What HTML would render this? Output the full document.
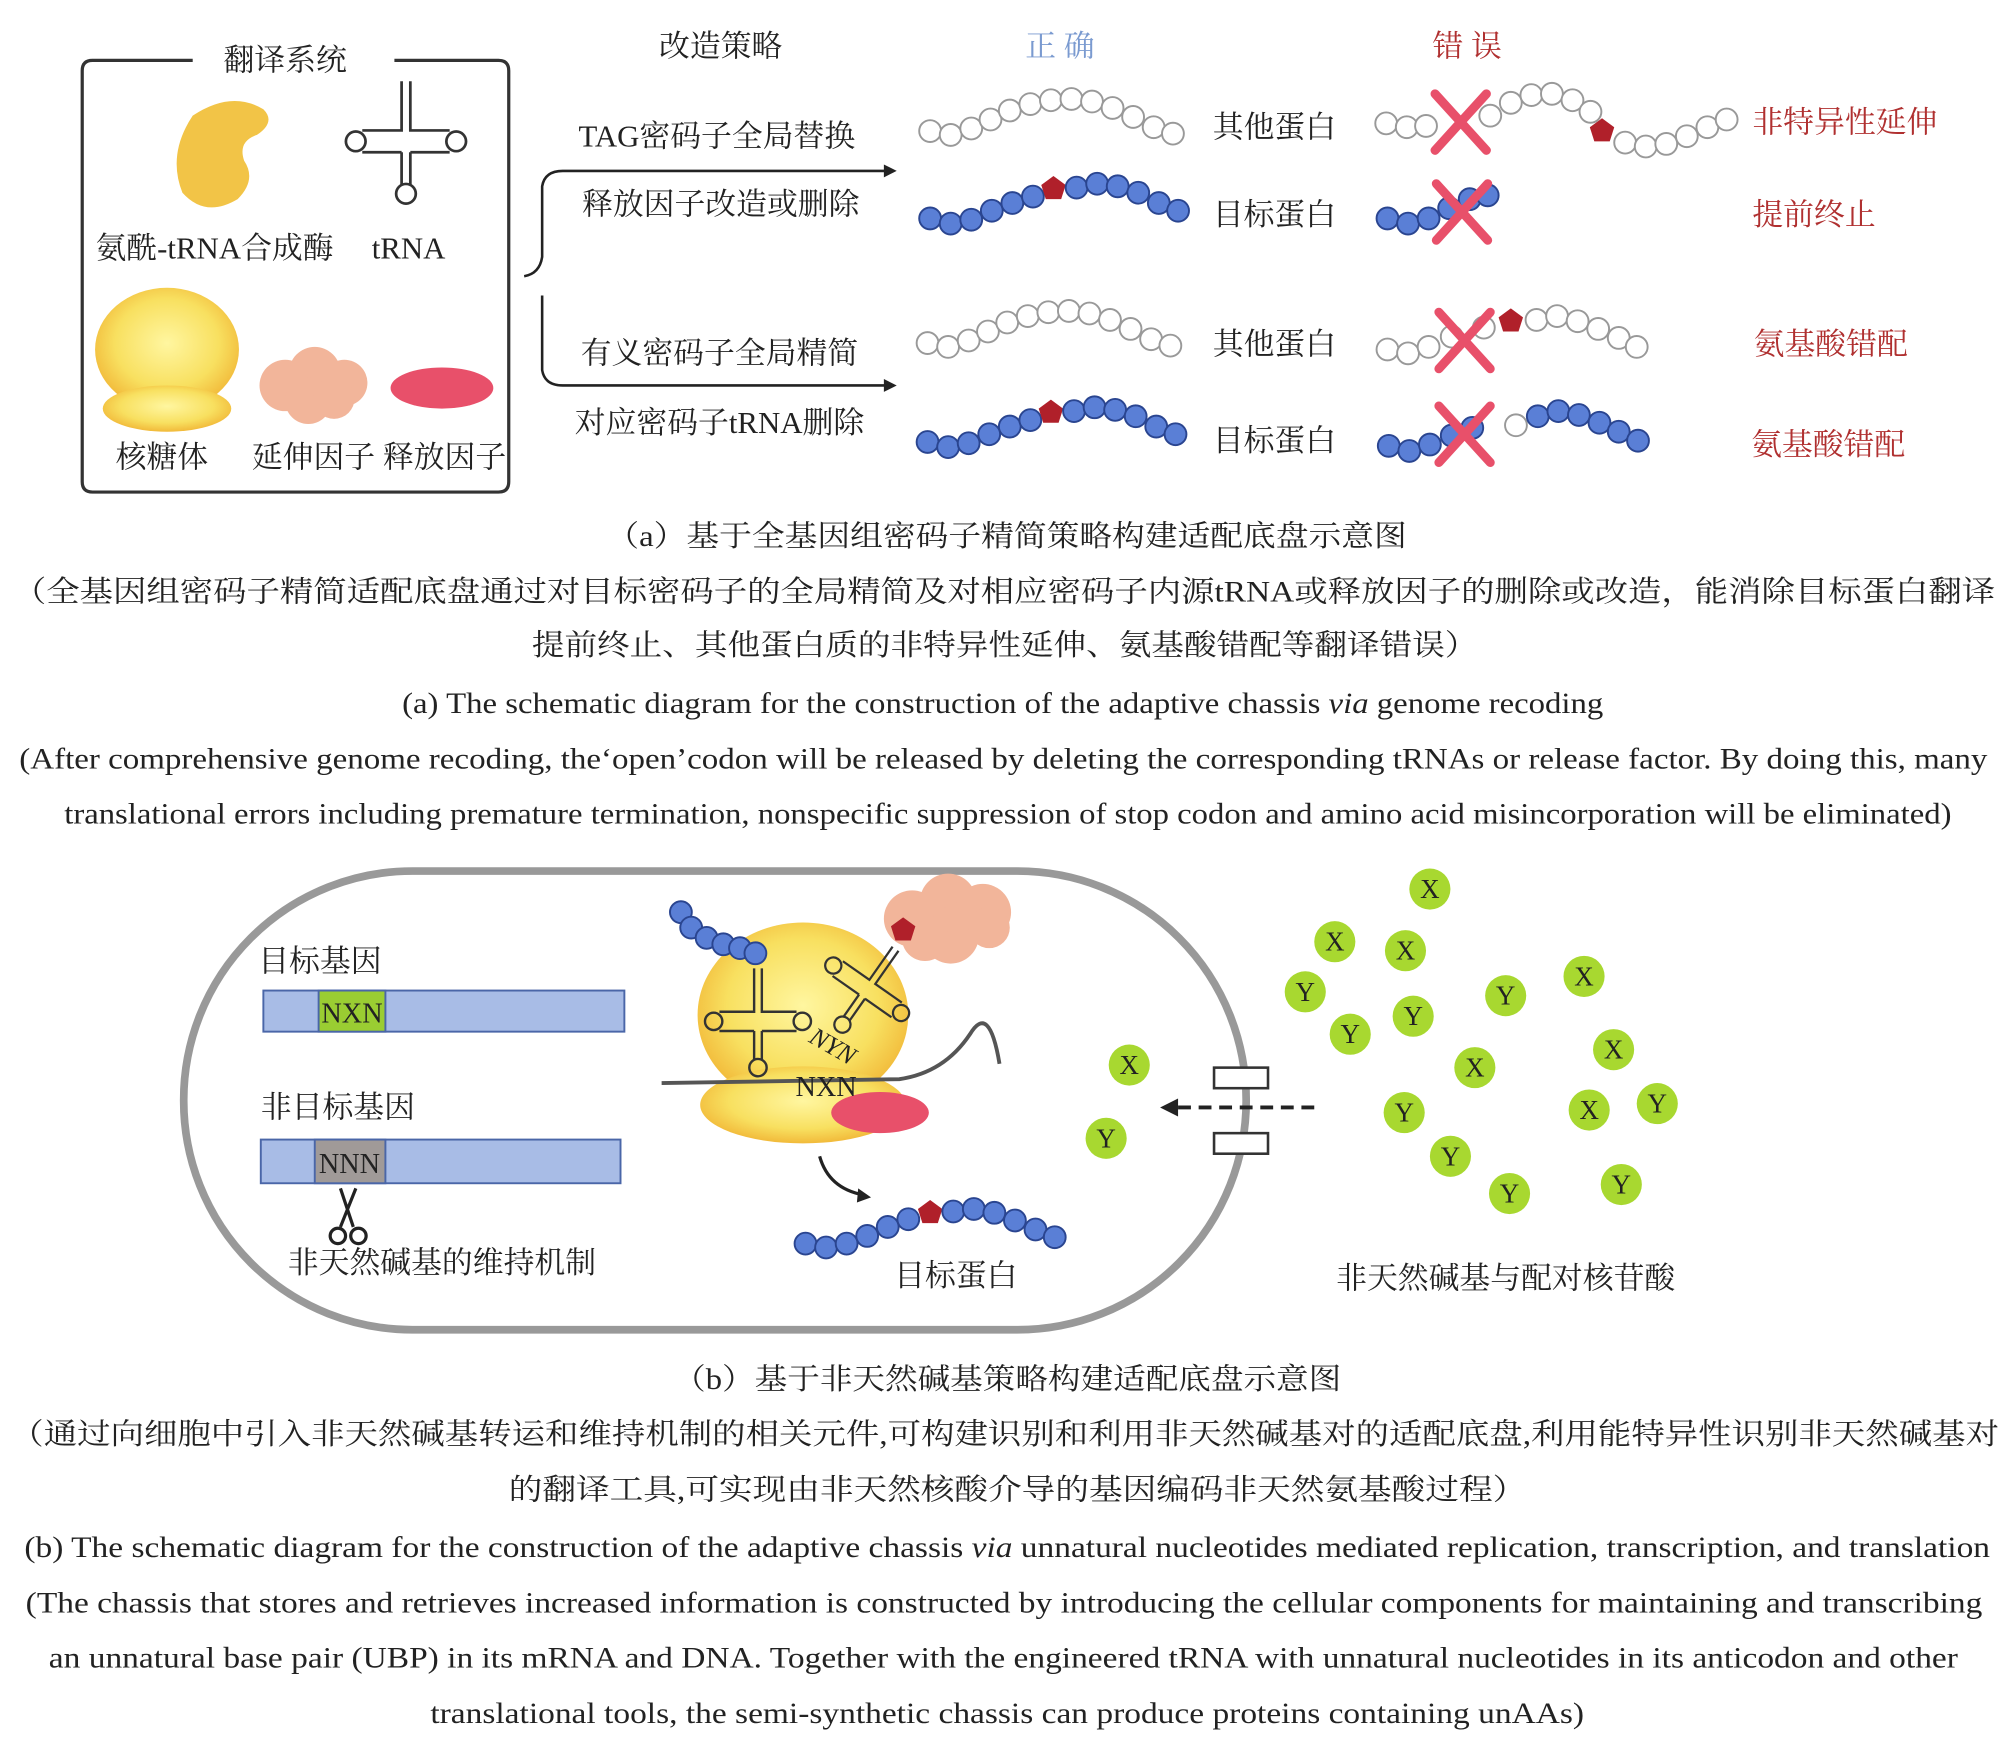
<!DOCTYPE html>
<html><head><meta charset="utf-8"><style>
html,body{margin:0;padding:0;background:#fff;}
svg{display:block;}
text{font-family:"Liberation Serif","Noto Serif CJK SC","Noto Sans CJK SC",serif;fill:#222;}
.c{text-anchor:middle;}
</style></head><body>
<svg width="2008" height="1737" viewBox="0 0 1563 1352" xmlns="http://www.w3.org/2000/svg">
<defs>
<radialGradient id="yg" cx="50%" cy="45%" r="60%"><stop offset="0" stop-color="#fff6a0"/><stop offset="0.6" stop-color="#f8e060"/><stop offset="1" stop-color="#f0b030"/></radialGradient>
<g id="wb"><circle r="8.5" fill="#fff" stroke="#999" stroke-width="1.5"/></g>
<g id="bb"><circle r="8.5" fill="#5a7fd6" stroke="#2a4590" stroke-width="1.5"/></g>
<g id="pent"><polygon points="0,-10 9.5,-3 6,8 -6,8 -9.5,-3" fill="#b0202a"/></g>
<g id="xx"><path d="M-20,-22 L20,22 M20,-22 L-20,22" stroke="#e8506a" stroke-width="7" stroke-linecap="round"/></g>
<g id="trna" fill="none" stroke="#333" stroke-width="2.5"><path d="M-4,-55 V-10 H-40 M4,-55 V-10 H40 M-4,10 H-40 M4,10 H40 M-4,10 V40 M4,10 V40"/><circle cx="-46" cy="0" r="9"/><circle cx="46" cy="0" r="9"/><circle cx="0" cy="48" r="9"/></g>
</defs>
<path d="M150,47 H72 Q64,47 64,55 V375 Q64,383 72,383 H388 Q396,383 396,375 V55 Q396,47 388,47 H307" fill="none" stroke="#333" stroke-width="2.5"/>
<text x="222" y="55" class="c" font-size="24">翻译系统</text>
<path d="M150,90 Q180,70 205,85 Q215,95 200,105 Q185,110 190,125 Q200,140 185,155 Q160,170 142,150 Q130,120 150,90Z" fill="#f2c447"/>
<g transform="translate(316,110) scale(0.85)"><use href="#trna"/></g>
<text x="167" y="201" class="c" font-size="24">氨酰-tRNA合成酶</text>
<text x="318" y="201" class="c" font-size="24">tRNA</text>
<ellipse cx="130" cy="272" rx="56" ry="48" fill="url(#yg)"/>
<ellipse cx="130" cy="318" rx="50" ry="18" fill="url(#yg)"/>
<g fill="#f2b59a"><circle cx="222" cy="300" r="20"/><circle cx="245" cy="290" r="20"/><circle cx="268" cy="298" r="18"/><circle cx="240" cy="312" r="18"/><circle cx="260" cy="310" r="16"/></g>
<ellipse cx="344" cy="302" rx="40" ry="16" fill="#e8506a"/>
<text x="126" y="364" class="c" font-size="24">核糖体</text>
<text x="295" y="364" class="c" font-size="24">延伸因子 释放因子</text>
<text x="561" y="44" class="c" font-size="24">改造策略</text>
<text x="825" y="44" class="c" font-size="24" style="fill:#7a9ad0">正 确</text>
<text x="1142" y="44" class="c" font-size="24" style="fill:#b03030">错 误</text>
<path d="M408,215 Q420,213 422,200 V145 Q424,133 438,133 H690 M422,230 V288 Q424,300 438,300 H690" fill="none" stroke="#222" stroke-width="2"/>
<polygon points="698,133 688,128 688,138" fill="#222"/><polygon points="698,300 688,295 688,305" fill="#222"/>
<text x="558" y="114" class="c" font-size="24">TAG密码子全局替换</text>
<text x="561" y="167" class="c" font-size="24">释放因子改造或删除</text>
<text x="560" y="283" class="c" font-size="24">有义密码子全局精简</text>
<text x="560" y="337" class="c" font-size="24">对应密码子tRNA删除</text>
<g id="w1"><use href="#wb" x="724" y="102"/><use href="#wb" x="740" y="105"/><use href="#wb" x="756" y="100"/><use href="#wb" x="771" y="93"/><use href="#wb" x="786" y="86"/><use href="#wb" x="802" y="81"/><use href="#wb" x="818" y="78"/><use href="#wb" x="834" y="77"/><use href="#wb" x="850" y="79"/><use href="#wb" x="866" y="84"/><use href="#wb" x="882" y="91"/><use href="#wb" x="898" y="99"/><use href="#wb" x="913" y="104"/></g>
<use href="#w1" x="-2" y="165"/>
<g id="b1"><use href="#bb" x="724" y="170"/><use href="#bb" x="740" y="174"/><use href="#bb" x="756" y="171"/><use href="#bb" x="772" y="164"/><use href="#bb" x="788" y="158"/><use href="#bb" x="804" y="153"/><use href="#pent" x="820" y="147"/><use href="#bb" x="838" y="146"/><use href="#bb" x="854" y="143"/><use href="#bb" x="870" y="145"/><use href="#bb" x="886" y="150"/><use href="#bb" x="902" y="158"/><use href="#bb" x="917" y="164"/></g>
<use href="#b1" x="-2" y="174"/>
<text x="992" y="107" class="c" font-size="24">其他蛋白</text>
<text x="992" y="175" class="c" font-size="24">目标蛋白</text>
<text x="992" y="276" class="c" font-size="24">其他蛋白</text>
<text x="992" y="351" class="c" font-size="24">目标蛋白</text>
<g><use href="#wb" x="1079" y="96"/><use href="#wb" x="1095" y="99"/><use href="#wb" x="1110" y="98"/><use href="#wb" x="1160" y="90"/><use href="#wb" x="1176" y="80"/><use href="#wb" x="1192" y="74"/><use href="#wb" x="1208" y="73"/><use href="#wb" x="1224" y="78"/><use href="#wb" x="1238" y="87"/><use href="#pent" x="1247" y="102"/><use href="#wb" x="1265" y="111"/><use href="#wb" x="1281" y="114"/><use href="#wb" x="1297" y="112"/><use href="#wb" x="1313" y="106"/><use href="#wb" x="1329" y="99"/><use href="#wb" x="1344" y="93"/></g>
<use href="#xx" x="1137" y="95"/>
<g><use href="#bb" x="1080" y="170"/><use href="#bb" x="1096" y="174"/><use href="#bb" x="1112" y="170"/><use href="#bb" x="1128" y="162"/><use href="#bb" x="1144" y="155"/><use href="#bb" x="1158" y="152"/></g>
<use href="#xx" x="1138" y="165"/>
<g><use href="#wb" x="1080" y="272"/><use href="#wb" x="1096" y="275"/><use href="#wb" x="1112" y="270"/><use href="#wb" x="1130" y="262"/><use href="#wb" x="1155" y="255"/><use href="#pent" x="1176" y="250"/><use href="#wb" x="1196" y="249"/><use href="#wb" x="1212" y="246"/><use href="#wb" x="1228" y="250"/><use href="#wb" x="1244" y="256"/><use href="#wb" x="1260" y="263"/><use href="#wb" x="1274" y="270"/></g>
<use href="#xx" x="1140" y="265"/>
<g><use href="#bb" x="1081" y="347"/><use href="#bb" x="1097" y="351"/><use href="#bb" x="1113" y="346"/><use href="#bb" x="1130" y="339"/><use href="#bb" x="1146" y="333"/><use href="#wb" x="1180" y="331"/><use href="#bb" x="1197" y="324"/><use href="#bb" x="1213" y="320"/><use href="#bb" x="1229" y="323"/><use href="#bb" x="1245" y="329"/><use href="#bb" x="1260" y="336"/><use href="#bb" x="1275" y="343"/></g>
<use href="#xx" x="1140" y="338"/>
<text x="1436" y="103" class="c" font-size="24" style="fill:#b03030">非特异性延伸</text><text x="1412" y="175" class="c" font-size="24" style="fill:#b03030">提前终止</text><text x="1425" y="276" class="c" font-size="24" style="fill:#b03030">氨基酸错配</text><text x="1423" y="354" class="c" font-size="24" style="fill:#b03030">氨基酸错配</text>
<g font-size="23">
<text x="472" y="425" textLength="623" lengthAdjust="spacingAndGlyphs">（a）基于全基因组密码子精简策略构建适配底盘示意图</text>
<text x="10" y="468" textLength="1543" lengthAdjust="spacingAndGlyphs">（全基因组密码子精简适配底盘通过对目标密码子的全局精简及对相应密码子内源tRNA或释放因子的删除或改造，能消除目标蛋白翻译</text>
<text x="414" y="510" textLength="736" lengthAdjust="spacingAndGlyphs">提前终止、其他蛋白质的非特异性延伸、氨基酸错配等翻译错误）</text>
<text x="313" y="555" textLength="935" lengthAdjust="spacingAndGlyphs">(a) The schematic diagram for the construction of the adaptive chassis <tspan font-style="italic">via</tspan> genome recoding</text>
<text x="15" y="598" textLength="1532" lengthAdjust="spacingAndGlyphs">(After comprehensive genome recoding, the‘open’codon will be released by deleting the corresponding tRNAs or release factor. By doing this, many</text>
<text x="50" y="641" textLength="1469" lengthAdjust="spacingAndGlyphs">translational errors including premature termination, nonspecific suppression of stop codon and amino acid misincorporation will be eliminated)</text>
</g>
<rect x="143" y="678" width="827" height="357" rx="178" fill="none" stroke="#999" stroke-width="6"/>
<text x="249" y="756" class="c" font-size="24">目标基因</text>
<rect x="205" y="771" width="281" height="32" fill="#a8bce6" stroke="#4a66a8" stroke-width="1.5"/>
<rect x="248" y="771" width="52" height="32" fill="#9acd32" stroke="#4a66a8" stroke-width="1.5"/>
<text x="274" y="796" class="c" font-size="22">NXN</text>
<text x="263" y="870" class="c" font-size="24">非目标基因</text>
<rect x="203" y="887" width="280" height="34" fill="#a8bce6" stroke="#4a66a8" stroke-width="1.5"/>
<rect x="245" y="887" width="55" height="34" fill="#a09a98" stroke="#4a66a8" stroke-width="1.5"/>
<text x="272" y="913" class="c" font-size="22">NNN</text>
<g fill="none" stroke="#222" stroke-width="2.5"><path d="M265,925 L275,955 M277,925 L265,955"/><circle cx="263" cy="962" r="6"/><circle cx="279" cy="962" r="6"/></g>
<text x="344" y="991" class="c" font-size="24">非天然碱基的维持机制</text>
<ellipse cx="625" cy="790" rx="82" ry="72" fill="url(#yg)"/>
<ellipse cx="625" cy="860" rx="80" ry="30" fill="url(#yg)"/>
<g fill="#f2b59a"><circle cx="710" cy="715" r="22"/><circle cx="738" cy="702" r="22"/><circle cx="765" cy="710" r="22"/><circle cx="740" cy="728" r="22"/><circle cx="720" cy="730" r="18"/><circle cx="770" cy="722" r="16"/></g>
<use href="#pent" x="703" y="724"/>
<path d="M515,843 L700,840 Q735,835 755,805 Q770,780 778,828" fill="none" stroke="#555" stroke-width="3"/>
<ellipse cx="685" cy="866" rx="38" ry="16" fill="#e8506a"/>
<g transform="translate(590,795) scale(0.75)"><use href="#trna"/></g>
<g transform="translate(675,770) rotate(35) scale(0.7)"><use href="#trna"/></g>
<g><use href="#bb" x="530" y="710"/><use href="#bb" x="538" y="722"/><use href="#bb" x="550" y="730"/><use href="#bb" x="563" y="735"/><use href="#bb" x="576" y="738"/><use href="#bb" x="588" y="742"/></g>
<text x="645" y="820" font-size="20" transform="rotate(30 645 820)" class="c" font-style="italic">NYN</text>
<text x="643" y="853" class="c" font-size="22">NXN</text>
<path d="M638,900 Q645,925 672,930" fill="none" stroke="#222" stroke-width="2.5"/><polygon points="678,932 668,925 667,936" fill="#222"/>
<g><use href="#bb" x="627" y="968"/><use href="#bb" x="643" y="971"/><use href="#bb" x="659" y="968"/><use href="#bb" x="675" y="962"/><use href="#bb" x="691" y="955"/><use href="#bb" x="707" y="949"/><use href="#pent" x="724" y="944"/><use href="#bb" x="742" y="943"/><use href="#bb" x="758" y="941"/><use href="#bb" x="774" y="944"/><use href="#bb" x="790" y="950"/><use href="#bb" x="806" y="957"/><use href="#bb" x="821" y="963"/></g>
<text x="744" y="1001" class="c" font-size="24">目标蛋白</text>
<rect x="945" y="831" width="42" height="16" fill="#fff" stroke="#333" stroke-width="2"/>
<rect x="945" y="882" width="42" height="16" fill="#fff" stroke="#333" stroke-width="2"/>
<path d="M1023,862 H915" stroke="#222" stroke-width="3" stroke-dasharray="10,6"/><polygon points="903,862 917,855 917,869" fill="#222"/>
<g fill="#a8d830">
<circle cx="879" cy="829" r="16"/><circle cx="861" cy="886" r="16"/>
<circle cx="1113" cy="692" r="16"/><circle cx="1039" cy="733" r="16"/><circle cx="1094" cy="740" r="16"/><circle cx="1016" cy="772" r="16"/><circle cx="1051" cy="805" r="16"/><circle cx="1100" cy="791" r="16"/><circle cx="1172" cy="775" r="16"/><circle cx="1233" cy="760" r="16"/><circle cx="1148" cy="831" r="16"/><circle cx="1256" cy="817" r="16"/><circle cx="1093" cy="866" r="16"/><circle cx="1237" cy="864" r="16"/><circle cx="1290" cy="859" r="16"/><circle cx="1129" cy="900" r="16"/><circle cx="1175" cy="929" r="16"/><circle cx="1262" cy="922" r="16"/>
</g>
<g font-size="21" text-anchor="middle">
<text x="879" y="836">X</text><text x="861" y="893">Y</text>
<text x="1113" y="699">X</text><text x="1039" y="740">X</text><text x="1094" y="747">X</text><text x="1016" y="779">Y</text><text x="1051" y="812">Y</text><text x="1100" y="798">Y</text><text x="1172" y="782">Y</text><text x="1233" y="767">X</text><text x="1148" y="838">X</text><text x="1256" y="824">X</text><text x="1093" y="873">Y</text><text x="1237" y="871">X</text><text x="1290" y="866">Y</text><text x="1129" y="907">Y</text><text x="1175" y="936">Y</text><text x="1262" y="929">Y</text>
</g>
<text x="1172" y="1003" class="c" font-size="24">非天然碱基与配对核苷酸</text>
<g font-size="23">
<text x="524" y="1081" textLength="520" lengthAdjust="spacingAndGlyphs">（b）基于非天然碱基策略构建适配底盘示意图</text>
<text x="8" y="1124" textLength="1548" lengthAdjust="spacingAndGlyphs">（通过向细胞中引入非天然碱基转运和维持机制的相关元件,可构建识别和利用非天然碱基对的适配底盘,利用能特异性识别非天然碱基对</text>
<text x="396" y="1167" textLength="792" lengthAdjust="spacingAndGlyphs">的翻译工具,可实现由非天然核酸介导的基因编码非天然氨基酸过程）</text>
<text x="19" y="1212" textLength="1530" lengthAdjust="spacingAndGlyphs">(b) The schematic diagram for the construction of the adaptive chassis <tspan font-style="italic">via</tspan> unnatural nucleotides mediated replication, transcription, and translation</text>
<text x="20" y="1255" textLength="1523" lengthAdjust="spacingAndGlyphs">(The chassis that stores and retrieves increased information is constructed by introducing the cellular components for maintaining and transcribing</text>
<text x="38" y="1298" textLength="1486" lengthAdjust="spacingAndGlyphs">an unnatural base pair (UBP) in its mRNA and DNA. Together with the engineered tRNA with unnatural nucleotides in its anticodon and other</text>
<text x="335" y="1341" textLength="898" lengthAdjust="spacingAndGlyphs">translational tools, the semi-synthetic chassis can produce proteins containing unAAs)</text>
</g>
</svg>
</body></html>
